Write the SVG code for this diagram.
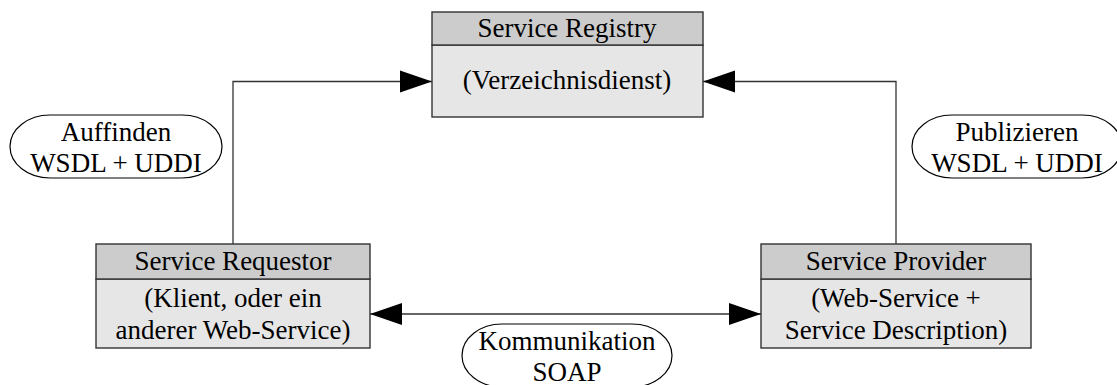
<svg xmlns="http://www.w3.org/2000/svg" width="1117" height="385" viewBox="0 0 1117 385">
  <style>
    text { font-family: "Liberation Serif", "Times New Roman", serif; font-size: 27px; fill: #000; text-anchor: middle; }
    .head { fill: #cccccc; stroke: #333; stroke-width: 1.4; }
    .body { fill: #e6e6e6; stroke: #333; stroke-width: 1.4; }
    .label { fill: #fff; stroke: #000; stroke-width: 1.2; }
    .conn { fill: none; stroke: #333; stroke-width: 1.3; }
  </style>
  <defs>
    <marker id="arrow" markerUnits="userSpaceOnUse" markerWidth="33" markerHeight="24" refX="32" refY="12" orient="auto-start-reverse">
      <path d="M0,1 L32,12 L0,23 Z" fill="#000"/>
    </marker>
  </defs>

  <!-- connectors -->
  <g id="connectors">
    <path class="conn" d="M233,244 V81.5 H432" marker-end="url(#arrow)"/>
    <path class="conn" d="M896,244 V81.5 H703" marker-end="url(#arrow)"/>
    <path class="conn" d="M370,314 H761" marker-start="url(#arrow)" marker-end="url(#arrow)"/>
  </g>

  <!-- Service Registry -->
  <g id="registry">
    <rect class="body" x="432" y="45" width="271" height="72"/>
    <rect class="head" x="432" y="12" width="271" height="33"/>
    <text x="567" y="37">Service Registry</text>
    <text x="567" y="89">(Verzeichnisdienst)</text>
  </g>

  <!-- Service Requestor -->
  <g id="requestor">
    <rect class="body" x="96" y="279" width="274" height="69"/>
    <rect class="head" x="96" y="244" width="274" height="35"/>
    <text x="233" y="270">Service Requestor</text>
    <text x="233" y="307">(Klient, oder ein</text>
    <text x="233" y="339">anderer Web-Service)</text>
  </g>

  <!-- Service Provider -->
  <g id="provider">
    <rect class="body" x="761" y="279" width="270" height="69"/>
    <rect class="head" x="761" y="244" width="270" height="35"/>
    <text x="896" y="270">Service Provider</text>
    <text x="896" y="307">(Web-Service +</text>
    <text x="896" y="339">Service Description)</text>
  </g>

  <!-- edge labels -->
  <g id="label-auffinden">
    <rect class="label" x="10" y="115" width="212" height="63" rx="40" ry="31.5"/>
    <text x="116" y="141">Auffinden</text>
    <text x="116" y="172">WSDL + UDDI</text>
  </g>
  <g id="label-publizieren">
    <rect class="label" x="912" y="115" width="210" height="63" rx="40" ry="31.5"/>
    <text x="1017" y="141">Publizieren</text>
    <text x="1017" y="172">WSDL + UDDI</text>
  </g>
  <g id="label-kommunikation">
    <rect class="label" x="462" y="324" width="210" height="63" rx="40" ry="31.5"/>
    <text x="567" y="350">Kommunikation</text>
    <text x="567" y="381">SOAP</text>
  </g>
</svg>
